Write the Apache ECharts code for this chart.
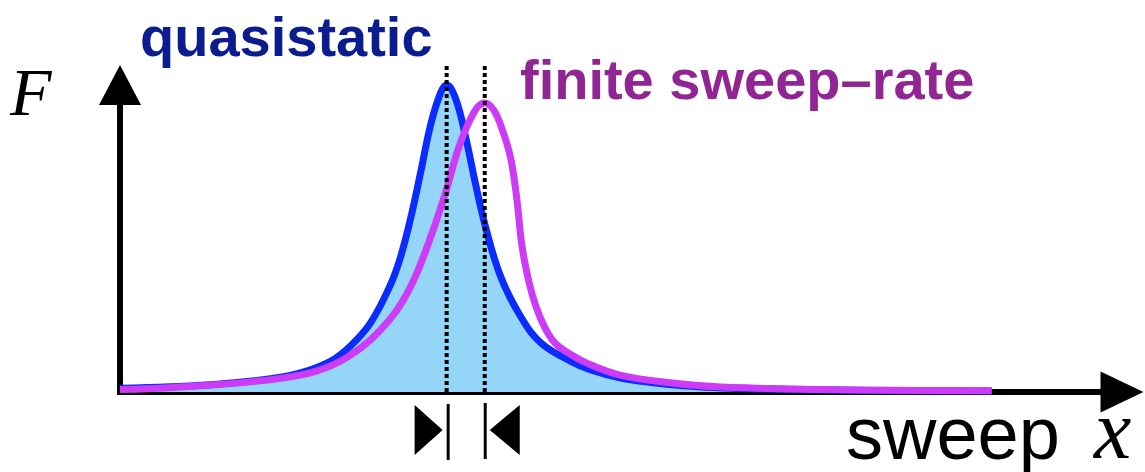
<!DOCTYPE html>
<html>
<head>
<meta charset="utf-8">
<script src="https://cdn.jsdelivr.net/npm/echarts@6/dist/echarts.min.js"></script>
<style>
  html, body { margin: 0; padding: 0; background: #fff; }
  #chart { width: 1145px; height: 472px; }
</style>
</head>
<body>
<div id="chart"></div>
<script>
// sweep position (0..100) and response F
const blueX = [0, 5, 10, 15, 18, 21, 23, 25, 27, 28, 29, 30, 31, 32, 32.6, 33.5, 34.5, 35.5, 36.5, 38, 40, 42, 45, 47, 50, 53, 56, 60, 70, 80, 87]
const blueF = [0.012, 0.017, 0.026, 0.043, 0.062, 0.100, 0.15, 0.225, 0.35, 0.44, 0.565, 0.715, 0.87, 0.975, 1.0, 0.955, 0.83, 0.675, 0.535, 0.375, 0.245, 0.160, 0.100, 0.072, 0.045, 0.031, 0.021, 0.013, 0.007, 0.004, 0.003]

const rateX = [0, 5, 8, 13, 18, 21, 23, 25, 26.9, 28.2, 29.4, 30.9, 32.4, 33.9, 35.4, 36.4, 37.3, 38.2, 39.0, 39.6, 40.1, 40.8, 41.5, 42.4, 43.4, 44.6, 46.6, 49.9, 54.9, 59.6, 70, 80, 87]
const rateF = [0.008, 0.014, 0.02, 0.033, 0.055, 0.085, 0.12, 0.17, 0.235, 0.295, 0.37, 0.495, 0.64, 0.805, 0.915, 0.941, 0.918, 0.85, 0.76, 0.63, 0.48, 0.36, 0.28, 0.21, 0.16, 0.13, 0.094, 0.055, 0.03, 0.017, 0.008, 0.005, 0.004]

// peak positions (dotted markers)
const peakX = [32.6, 36.4]
const markTop = 1.07

const labels = ['quasistatic', 'finite sweep\u2013rate']

function zip(xs, ys) {
    let out = []
    for (let i = 0; i < xs.length; i++) {
        out.push([xs[i], ys[i]])
    }
    return out
}

const dotted = {
    color: '#000',
    width: 4,
    type: [4, 3],
    cap: 'butt'
}

const option = {
    animation: false,
    grid: { left: 120, right: 23, top: 85, bottom: 80 },
    xAxis: {
        type: 'value',
        min: 0,
        max: 100,
        axisLine: {
            show: true,
            symbol: ['none', 'triangle'],
            symbolSize: [41, 43],
            lineStyle: { color: '#000', width: 6 }
        },
        axisTick: { show: false },
        axisLabel: { show: false },
        splitLine: { show: false }
    },
    yAxis: {
        type: 'value',
        min: 0,
        max: 1,
        axisLine: {
            show: true,
            symbol: ['none', 'triangle'],
            symbolSize: [42, 40],
            lineStyle: { color: '#000', width: 6, cap: 'square' }
        },
        axisTick: { show: false },
        axisLabel: { show: false },
        splitLine: { show: false }
    },
    series: [
        {
            name: labels[0],
            type: 'line',
            data: zip(blueX, blueF),
            smooth: 0.4,
            showSymbol: false,
            clip: false,
            lineStyle: { color: '#0a2cff', width: 7 },
            areaStyle: { color: '#95d5f7', opacity: 1 },
            z: 2
        },
        {
            name: labels[1],
            type: 'line',
            data: zip(rateX, rateF),
            smooth: 0.4,
            showSymbol: false,
            clip: false,
            lineStyle: { color: '#cc3cf7', width: 7 },
            z: 3
        },
        {
            type: 'line',
            data: [[peakX[0], 0], [peakX[0], markTop]],
            showSymbol: false,
            clip: false,
            lineStyle: dotted,
            z: 4
        },
        {
            type: 'line',
            data: [[peakX[1], 0], [peakX[1], markTop]],
            showSymbol: false,
            clip: false,
            lineStyle: dotted,
            z: 4
        }
    ]
}

const dom = document.getElementById('chart')
const myChart = echarts.init(dom)
myChart.setOption(option)

// shift markers under the axis, anchored on the two peaks
const p0 = myChart.convertToPixel({ xAxisIndex: 0 }, peakX[0])
const p1 = myChart.convertToPixel({ xAxisIndex: 0 }, peakX[1])

myChart.setOption({
    graphic: [
        {
            type: 'text', left: 140, top: 13,
            style: { text: labels[0], font: 'bold 56px "Liberation Sans", Arial, sans-serif', fill: '#0b1c8e' }
        },
        {
            type: 'text', left: 520, top: 56,
            style: { text: labels[1], font: 'bold 56px "Liberation Sans", Arial, sans-serif', fill: '#912593' }
        },
        {
            type: 'text', left: 10, top: 63,
            style: { text: 'F', font: 'italic 68px "Liberation Serif", serif', fill: '#000' }
        },
        {
            type: 'text', left: 846, top: 402,
            style: { text: 'sweep', font: '74px "Liberation Sans", Arial, sans-serif', fill: '#000' }
        },
        {
            type: 'text', left: 1094, top: 394,
            style: { text: 'x', font: 'italic 84px "Liberation Serif", serif', fill: '#000' }
        },
        {
            type: 'polygon',
            shape: { points: [[p0 - 32, 405], [p0 - 4, 430], [p0 - 32, 455]] },
            style: { fill: '#000' }
        },
        {
            type: 'rect',
            shape: { x: p0, y: 404, width: 3, height: 56 },
            style: { fill: '#000' }
        },
        {
            type: 'rect',
            shape: { x: p1 - 1, y: 403, width: 3, height: 56 },
            style: { fill: '#000' }
        },
        {
            type: 'polygon',
            shape: { points: [[p1 + 35, 405], [p1 + 5, 430], [p1 + 35, 455]] },
            style: { fill: '#000' }
        }
    ]
})
</script>
</body>
</html>
